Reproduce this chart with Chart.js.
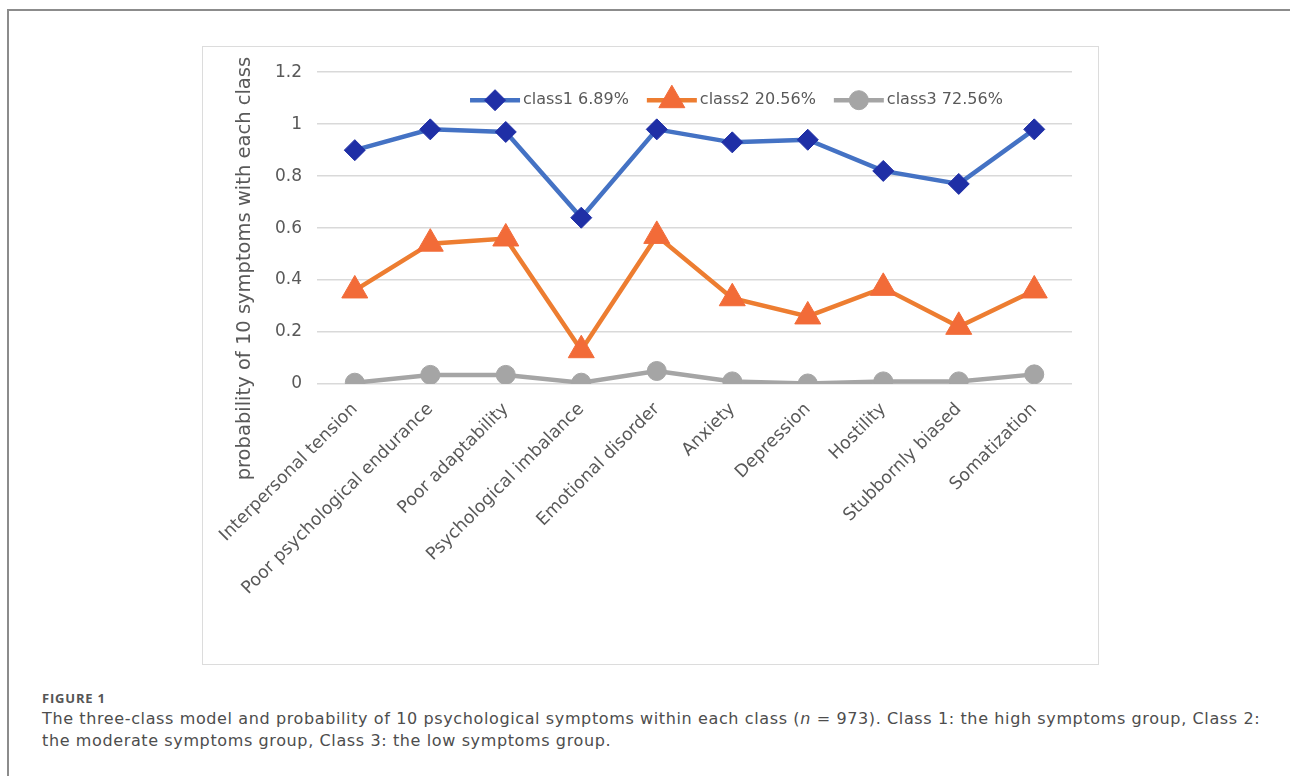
<!DOCTYPE html>
<html>
<head>
<meta charset="utf-8">
<script src="https://cdn.jsdelivr.net/npm/chart.js@4.4.1/dist/chart.umd.min.js"></script>
<style>
  body { margin: 0; background: #fff; width: 1290px; height: 776px; overflow: hidden; position: relative; }
  #frame { position: absolute; left: 7px; top: 9px; width: 1400px; height: 900px; border: 2px solid #8c8c8c; }
  #box { position: absolute; left: 202px; top: 46px; width: 895px; height: 617px; border: 1.5px solid #dcdcdc; }
  #box canvas { display: block; }
  #caption { position: absolute; left: 42px; top: 691px; color: #4d4d4d; }
  #caption .fig { font-family: 'Open Sans', sans-serif; font-size: 13px; font-weight: 700; line-height: 14px; color: #555; letter-spacing: 0.8px; }
  #caption .txt { font-family: 'DejaVu Sans', sans-serif; font-size: 16px; line-height: 22px; margin-top: 3px; white-space: nowrap; letter-spacing: 0.62px; }
</style>
</head>
<body>
<div id="frame"></div>
<div id="box"><canvas id="chart" width="895" height="617"></canvas></div>
<div id="caption">
  <div class="fig">FIGURE 1</div>
  <div class="txt">The three-class model and probability of 10 psychological symptoms within each class (<i>n</i> = 973). Class 1: the high symptoms group, Class 2:<br>the moderate symptoms group, Class 3: the low symptoms group.</div>
</div>
<script>
// symptoms on the x axis
const symptoms = [
    "Interpersonal tension", "Poor psychological endurance", "Poor adaptability",
    "Psychological imbalance", "Emotional disorder", "Anxiety", "Depression",
    "Hostility", "Stubbornly biased", "Somatization"
];

const seriesNames = ["class1 6.89%", "class2 20.56%", "class3 72.56%"];

// probability
const class1 = [0.90, 0.98, 0.97, 0.64, 0.98, 0.93, 0.94, 0.82, 0.77, 0.98];
const class2 = [0.36, 0.54, 0.56, 0.13, 0.57, 0.33, 0.26, 0.37, 0.22, 0.36];
const class3 = [0.005, 0.035, 0.035, 0.005, 0.05, 0.01, 0.002, 0.01, 0.01, 0.037];

const yTicks = [0, 0.2, 0.4, 0.6, 0.8, 1, 1.2];
const yTitle = "probability of 10 symptoms with each class";

const textColor = '#595959';
const fontFamily = "'DejaVu Sans', sans-serif";

// legend drawn inside the plot, line sample + marker like Excel
const insideLegend = {
    id: 'insideLegend',
    afterDraw(chart) {
        const c = chart.ctx;
        const area = chart.chartArea;
        let x = area.left + 153;
        const y = area.top + 28;
        c.save();
        c.font = '16px ' + fontFamily;
        c.textBaseline = 'middle';
        chart.data.datasets.forEach(ds => {
            c.strokeStyle = ds.borderColor;
            c.lineWidth = ds.borderWidth;
            c.beginPath();
            c.moveTo(x, y);
            c.lineTo(x + 50, y);
            c.stroke();
            c.fillStyle = ds.pointBackgroundColor;
            c.strokeStyle = ds.pointBorderColor;
            c.lineWidth = 1;
            Chart.helpers.drawPoint(c, {
                pointStyle: ds.pointStyle,
                radius: ds.pointRadius,
                borderWidth: 1,
                rotation: 0
            }, x + 25, y);
            c.fillStyle = textColor;
            c.textAlign = 'left';
            c.fillText(ds.label, x + 53, y);
            x += 53 + c.measureText(ds.label).width + 18;
        });
        c.restore();
    }
};

// y title centred on plot + labels block, not only the scale
const sideTitle = {
    id: 'sideTitle',
    afterDraw(chart) {
        const c = chart.ctx;
        const area = chart.chartArea;
        c.save();
        c.translate(42, area.top + area.height * 0.63);
        c.rotate(-Math.PI / 2);
        c.font = '19.5px ' + fontFamily;
        c.fillStyle = textColor;
        c.textAlign = 'center';
        c.textBaseline = 'middle';
        c.fillText(yTitle, 0, 0);
        c.restore();
    }
};

const ctx = document.getElementById('chart').getContext('2d');

new Chart(ctx, {
    type: 'line',
    data: {
        labels: symptoms,
        datasets: [
            {
                label: seriesNames[0],
                data: class1,
                borderColor: '#4472C4',
                borderWidth: 4.5,
                pointStyle: 'rectRot',
                pointRadius: 10.5,
                pointBackgroundColor: '#1F2FA6',
                pointBorderColor: '#1F2FA6',
                pointBorderWidth: 1,
                order: 1
            },
            {
                label: seriesNames[1],
                data: class2,
                borderColor: '#ED7D31',
                borderWidth: 4.5,
                pointStyle: 'triangle',
                pointRadius: 15,
                pointBackgroundColor: '#F26B38',
                pointBorderColor: '#F26B38',
                pointBorderWidth: 1,
                order: 2
            },
            {
                label: seriesNames[2],
                data: class3,
                borderColor: '#A5A5A5',
                borderWidth: 4.5,
                pointStyle: 'circle',
                pointRadius: 9.5,
                pointBackgroundColor: '#A5A5A5',
                pointBorderColor: '#A5A5A5',
                pointBorderWidth: 1,
                order: 3
            }
        ]
    },
    options: {
        responsive: false,
        animation: false,
        layout: {
            padding: { left: 57, top: 25, right: 26, bottom: 58 }
        },
        plugins: {
            legend: { display: false },
            tooltip: { enabled: false }
        },
        scales: {
            x: {
                offset: true,
                grid: { display: false },
                border: { display: false },
                // rotated labels may run into the y axis area, like Excel
                afterFit(scale) {
                    scale.paddingLeft = 0;
                },
                ticks: {
                    color: textColor,
                    font: { family: fontFamily, size: 17.5 },
                    minRotation: 45,
                    maxRotation: 45,
                    autoSkip: false,
                    padding: 7
                }
            },
            y: {
                min: 0,
                max: 1.2,
                afterBuildTicks(scale) {
                    scale.ticks = yTicks.map(v => ({ value: v }));
                },
                grid: { color: '#d9d9d9', lineWidth: 1.5, drawTicks: false },
                border: { display: false },
                ticks: {
                    color: textColor,
                    font: { family: fontFamily, size: 17 },
                    padding: 15,
                    callback: v => String(v)
                }
            }
        }
    },
    plugins: [insideLegend, sideTitle]
});
</script>
</body>
</html>
